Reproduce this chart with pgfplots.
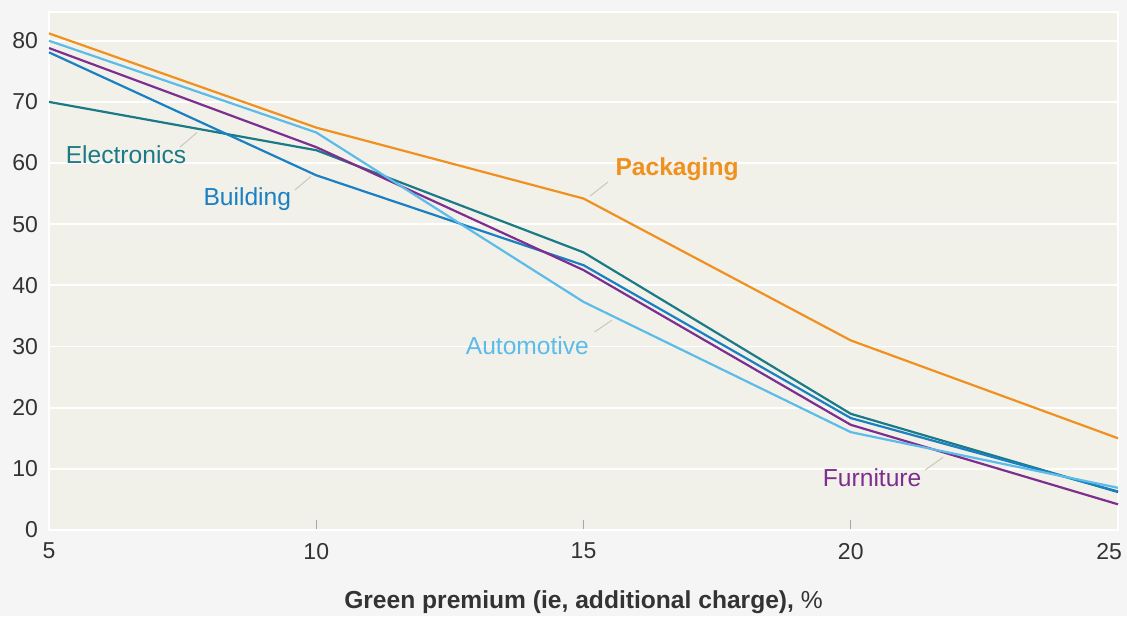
\documentclass[border=0pt]{standalone}
\usepackage{fontspec}
\setmainfont{Liberation Sans}
\usepackage{pgfplots}
\pgfplotsset{compat=1.18}

\definecolor{outerbg}{HTML}{F5F5F5}
\definecolor{plotbg}{HTML}{F1F1EA}
\definecolor{cPack}{HTML}{F0901E}
\definecolor{cAuto}{HTML}{5CBBE8}
\definecolor{cFurn}{HTML}{7D2E8E}
\definecolor{cBuild}{HTML}{1A80C2}
\definecolor{cElec}{HTML}{1B7A86}
\definecolor{ticktext}{HTML}{333333}
\definecolor{leader}{HTML}{C8C8C0}

\begin{document}
\begin{tikzpicture}
% page background (1px = 0.5pt)
\fill[outerbg] (-24.5pt,-43pt) rectangle (539pt,265pt);
\begin{axis}[
  at={(0,0)}, anchor=south west,
  scale only axis,
  width=534.5pt, height=259pt,
  xmin=5, xmax=25, ymin=0, ymax=84.7,
  xtick={5,10,15,20,25},
  xticklabels={5,10,15,20,\makebox[0pt][r]{25\kern-2pt}},
  ytick={0,10,...,80},
  axis background/.style={fill=plotbg},
  axis line style={white, line width=1.2pt},
  ymajorgrids,
  grid style={white, line width=0.9pt},
  major tick length=5pt,
  xtick style={draw=gray!70, line width=0.5pt},
  ytick style={draw=none},
  tick align=inside,
  xtick pos=bottom,
  /pgf/number format/assume math mode=true,
  tick label style={font=\fontsize{11.5}{13}\selectfont, text=ticktext},
  yticklabel style={xshift=-2pt},
  xticklabel style={yshift=-3pt},
  xlabel={\textbf{Green premium (ie, additional charge),} \%},
  xlabel style={at={(axis description cs:0.5,0)}, anchor=center, yshift=-36pt,
    font=\fontsize{12.3}{14}\selectfont, text=ticktext},
  clip=false,
  every axis plot/.append style={line width=1.1pt, no marks},
]
\addplot[cElec] coordinates {(5,70) (10,62.1) (15,45.4) (20,19) (25,6.2)};
\addplot[cBuild] coordinates {(5,78.1) (10,58) (15,43.3) (20,18.3) (25,6.3)};
\addplot[cFurn] coordinates {(5,78.8) (10,62.6) (15,42.5) (20,17.2) (25,4.2)};
\addplot[cAuto] coordinates {(5,80) (10,65) (15,37.3) (20,16) (25,6.9)};
\addplot[cPack] coordinates {(5,81.2) (10,65.8) (15,54.2) (20,31) (25,15)};

% leader lines
\draw[leader, line width=0.5pt] (axis cs:7.45,62.6) -- (axis cs:7.77,65.0);
\draw[leader, line width=0.5pt] (axis cs:9.60,55.6) -- (axis cs:9.90,57.8);
\draw[leader, line width=0.5pt] (axis cs:15.12,54.6) -- (axis cs:15.46,56.9);
\draw[leader, line width=0.5pt] (axis cs:15.21,32.4) -- (axis cs:15.53,34.3);
\draw[leader, line width=0.5pt] (axis cs:21.39,9.8) -- (axis cs:21.73,11.9);

% series labels
\begin{scope}[every node/.style={font=\fontsize{12.3}{14}\selectfont, inner sep=0pt}]
\node[text=cElec] at (axis cs:6.44,61.3) {Electronics};
\node[text=cBuild] at (axis cs:8.71,54.1) {Building};
\node[text=cPack, font=\fontsize{12.3}{14}\selectfont\bfseries] at (axis cs:16.75,59.0) {Packaging};
\node[text=cAuto] at (axis cs:13.95,30.2) {Automotive};
\node[text=cFurn] at (axis cs:20.40,8.5) {Furniture};
\end{scope}
\end{axis}
\pgfresetboundingbox
\path (-24.5pt,-43pt) rectangle (539pt,265pt);
\end{tikzpicture}
\end{document}
